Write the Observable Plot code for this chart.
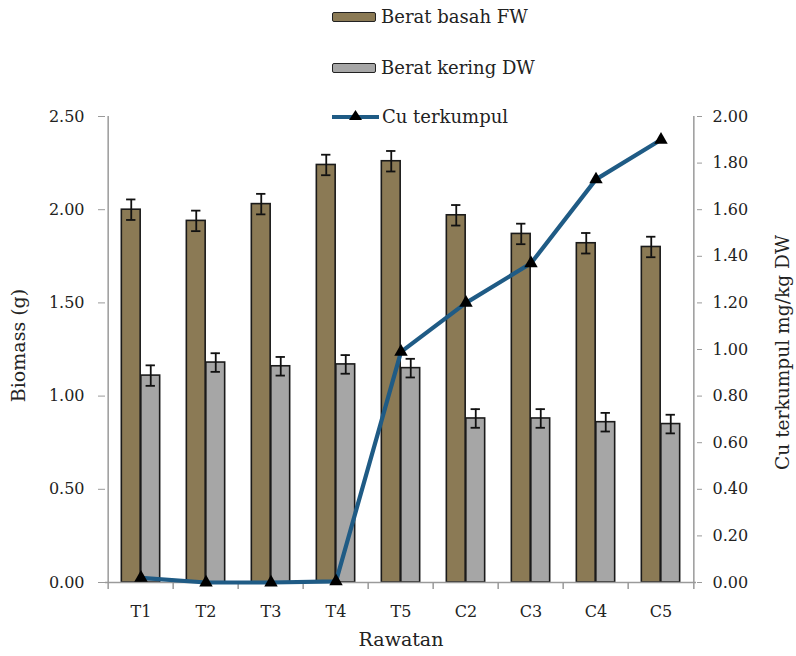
<!DOCTYPE html>
<html>
<head>
<meta charset="utf-8">
<script src="https://cdn.jsdelivr.net/npm/d3@7"></script>
<script src="https://cdn.jsdelivr.net/npm/@observablehq/plot@0.6"></script>
<style>
  html, body { margin: 0; padding: 0; background: #fff; }
  #wrap { position: relative; width: 796px; height: 656px; font-family: "DejaVu Serif", serif; color: #222; }
  #wrap svg { position: absolute; left: 0; top: 0; }
  .leg { position: absolute; left: 332px; display: flex; align-items: center; font-size: 18px; line-height: 1; white-space: nowrap; }
  .sw { width: 42px; height: 8px; border: 1.8px solid #222; border-radius: 2px; margin-right: 5px; }
</style>
</head>
<body>
<div id="wrap"></div>
<script>
const categories = ["T1", "T2", "T3", "T4", "T5", "C2", "C3", "C4", "C5"];
const beratBasah = [2.00, 1.94, 2.03, 2.24, 2.26, 1.97, 1.87, 1.82, 1.80];
const errBasah   = [0.055, 0.055, 0.055, 0.055, 0.055, 0.055, 0.055, 0.055, 0.055];
const beratKering = [1.11, 1.18, 1.16, 1.17, 1.15, 0.88, 0.88, 0.86, 0.85];
const errKering   = [0.055, 0.050, 0.050, 0.050, 0.050, 0.050, 0.050, 0.050, 0.050];
const cuTerkumpul = [0.02, 0.00, 0.00, 0.005, 0.99, 1.20, 1.37, 1.73, 1.90];
const leftTicks = [0, 0.5, 1.0, 1.5, 2.0, 2.5];
const rightTicks = [0, 0.2, 0.4, 0.6, 0.8, 1.0, 1.2, 1.4, 1.6, 1.8, 2.0];
const leftMax = 2.5, rightMax = 2.0;
const k = leftMax / rightMax;

const colFW = "#8b7a55", colDW = "#a6a6a6", colCu = "#1f5b85", axisCol = "#9a9a9a";

const fw = categories.map((c, i) => ({cat: c, value: beratBasah[i], err: errBasah[i]}));
const dw = categories.map((c, i) => ({cat: c, value: beratKering[i], err: errKering[i]}));
const cu = categories.map((c, i) => ({cat: c, cu: cuTerkumpul[i]}));

const W = 796, H = 656, mL = 105, mR = 100, mT = 116, mB = 74;
const bw = (W - mL - mR) / categories.length;
const barW = 19.5;
const off = barW / 2;
const capHalf = 5;

const chart = Plot.plot({
  width: W, height: H,
  marginLeft: mL, marginRight: mR, marginTop: mT, marginBottom: mB,
  style: {fontFamily: "DejaVu Serif", fontSize: "16px", background: "white", color: "#222", overflow: "visible"},
  x: {type: "band", domain: categories, padding: 0, axis: null},
  y: {domain: [0, leftMax], nice: false, axis: null},
  marks: [
    Plot.barY(fw, {x: "cat", y: "value", fill: colFW, stroke: "#1a1a1a", strokeWidth: 1.6, insetLeft: bw / 2 - barW, insetRight: bw / 2}),
    Plot.barY(dw, {x: "cat", y: "value", fill: colDW, stroke: "#1a1a1a", strokeWidth: 1.6, insetLeft: bw / 2, insetRight: bw / 2 - barW}),
    Plot.ruleX(fw, {x: "cat", y1: d => d.value - d.err, y2: d => d.value + d.err, dx: -off, stroke: "#111", strokeWidth: 1.8}),
    Plot.tickY(fw, {x: "cat", y: d => d.value + d.err, insetLeft: bw / 2 - off - capHalf, insetRight: bw / 2 + off - capHalf, stroke: "#111", strokeWidth: 1.8}),
    Plot.tickY(fw, {x: "cat", y: d => d.value - d.err, insetLeft: bw / 2 - off - capHalf, insetRight: bw / 2 + off - capHalf, stroke: "#111", strokeWidth: 1.8}),
    Plot.ruleX(dw, {x: "cat", y1: d => d.value - d.err, y2: d => d.value + d.err, dx: off, stroke: "#111", strokeWidth: 1.8}),
    Plot.tickY(dw, {x: "cat", y: d => d.value + d.err, insetLeft: bw / 2 + off - capHalf, insetRight: bw / 2 - off - capHalf, stroke: "#111", strokeWidth: 1.8}),
    Plot.tickY(dw, {x: "cat", y: d => d.value - d.err, insetLeft: bw / 2 + off - capHalf, insetRight: bw / 2 - off - capHalf, stroke: "#111", strokeWidth: 1.8}),
    Plot.ruleY([0], {stroke: axisCol, strokeWidth: 1.5}),
    Plot.ruleX([categories[0]], {x: d => d, dx: -bw / 2, stroke: axisCol, strokeWidth: 1.5}),
    Plot.ruleX([categories[categories.length - 1]], {x: d => d, dx: bw / 2, stroke: axisCol, strokeWidth: 1.5}),
    Plot.ruleX(categories, {x: d => d, dx: -bw / 2, y1: 0, y2: 0, insetBottom: -7, stroke: axisCol, strokeWidth: 1.5}),
    Plot.ruleX([categories[categories.length - 1]], {x: d => d, dx: bw / 2, y1: 0, y2: 0, insetBottom: -7, stroke: axisCol, strokeWidth: 1.5}),
    Plot.line(cu, {x: "cat", y: d => d.cu * k, stroke: colCu, strokeWidth: 4.2}),
    Plot.dot(cu, {x: "cat", y: d => d.cu * k, symbol: "triangle", r: 5, fill: "#000", stroke: "none"}),
    Plot.axisY(leftTicks, {anchor: "left", tickSize: 7, tickPadding: 14, fontSize: 16, tickFormat: d => d.toFixed(2), stroke: axisCol, fill: "#222", label: null}),
    Plot.axisY(rightTicks.map(v => v * k), {anchor: "right", tickSize: 5, tickPadding: 11, fontSize: 16, tickFormat: d => (d / k).toFixed(2), stroke: axisCol, fill: "#222", label: null}),
    Plot.axisX({anchor: "bottom", tickSize: 0, tickPadding: 23, fontSize: 16, fill: "#222", label: null}),
    Plot.text(["Biomass (g)"], {text: d => d, frameAnchor: "left", textAnchor: "middle", rotate: -90, dx: -87, dy: -4, fontSize: 19, fill: "#222"}),
    Plot.text(["Cu terkumpul mg/kg DW"], {text: d => d, frameAnchor: "right", textAnchor: "middle", rotate: -90, dx: 87, dy: 3, fontSize: 18.6, fill: "#222"}),
    Plot.text(["Rawatan"], {text: d => d, frameAnchor: "bottom", textAnchor: "middle", dy: 63, fontSize: 19, fill: "#222"})
  ]
});

const wrap = document.getElementById("wrap");
wrap.appendChild(chart);

const legendItems = [
  {label: "Berat basah FW", kind: "bar", color: colFW, top: 17},
  {label: "Berat kering DW", kind: "bar", color: colDW, top: 68},
  {label: "Cu terkumpul", kind: "line", color: colCu, top: 117}
];
for (const it of legendItems) {
  const div = document.createElement("div");
  div.className = "leg";
  div.style.top = (it.top - 11) + "px";
  div.style.height = "22px";
  if (it.kind === "bar") {
    const sw = document.createElement("div");
    sw.className = "sw";
    sw.style.background = it.color;
    div.appendChild(sw);
  } else {
    const ns = "http://www.w3.org/2000/svg";
    const s = document.createElementNS(ns, "svg");
    s.setAttribute("width", "48"); s.setAttribute("height", "22");
    s.style.position = "static"; s.style.marginRight = "2px";
    const ln = document.createElementNS(ns, "line");
    ln.setAttribute("x1", "0"); ln.setAttribute("x2", "47"); ln.setAttribute("y1", "11"); ln.setAttribute("y2", "11");
    ln.setAttribute("stroke", it.color); ln.setAttribute("stroke-width", "4");
    s.appendChild(ln);
    const tri = document.createElementNS(ns, "path");
    tri.setAttribute("d", "M23.5,4 L30,14 L17,14 Z");
    tri.setAttribute("fill", "#000");
    s.appendChild(tri);
    div.appendChild(s);
  }
  const t = document.createElement("span");
  t.textContent = it.label;
  div.appendChild(t);
  wrap.appendChild(div);
}
</script>
</body>
</html>
